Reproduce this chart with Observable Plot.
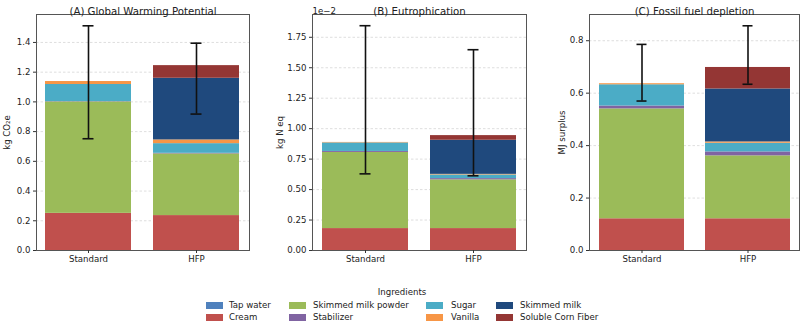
<!DOCTYPE html>
<html><head><meta charset="utf-8">
<script src="https://cdn.jsdelivr.net/npm/d3@7"></script>
<script src="https://cdn.jsdelivr.net/npm/@observablehq/plot@0.6"></script>
<style>
body{margin:0;background:#fff;font-family:"DejaVu Sans",sans-serif;}
#wrap{position:relative;width:805px;height:324px;overflow:hidden;background:#fff;}
.panel{position:absolute;top:0;}
.panel svg{overflow:visible;}
.lg{position:absolute;font-size:8.6px;color:#222;white-space:nowrap;line-height:1;}
.sw{position:absolute;width:17px;height:7px;}
</style></head><body><div id="wrap"></div>
<script>
// ---- data ----
const products = ["Standard", "HFP"];
const ingredients = ["Tap water", "Cream", "Skimmed milk powder", "Stabilizer", "Sugar", "Vanilla", "Skimmed milk", "Soluble Corn Fiber"];
const ingredientColors = ["#4f81bd", "#c0504d", "#9bbb59", "#8064a2", "#4bacc6", "#f79646", "#1f497d", "#943634"];

// segment values per ingredient (same order as ingredients)
const gwpStandard = [0, 0.25, 0.75, 0.002, 0.115, 0.02, 0, 0];
const gwpHFP      = [0, 0.235, 0.415, 0.004, 0.065, 0.025, 0.415, 0.085];
const gwpErrLow   = [0.752, 0.918];
const gwpErrHigh  = [1.512, 1.395];

const eutStandard = [0, 0.18, 0.625, 0.008, 0.07, 0.004, 0, 0];   // ×1e-2
const eutHFP      = [0, 0.18, 0.40, 0.01, 0.03, 0.005, 0.28, 0.038];
const eutErrLow   = [0.629, 0.613];
const eutErrHigh  = [1.845, 1.648];

const ffdStandard = [0, 0.121, 0.419, 0.011, 0.081, 0.004, 0, 0];
const ffdHFP      = [0, 0.121, 0.24, 0.015, 0.033, 0.005, 0.202, 0.082];
const ffdErrLow   = [0.570, 0.634];
const ffdErrHigh  = [0.786, 0.857];

const gwpTicks = [0, 0.2, 0.4, 0.6, 0.8, 1.0, 1.2, 1.4];
const eutTicks = [0, 0.25, 0.5, 0.75, 1.0, 1.25, 1.5, 1.75];
const ffdTicks = [0, 0.2, 0.4, 0.6, 0.8];

// ---- layout ----
const wrap = document.getElementById("wrap");
const FONT = "DejaVu Sans";

function panel(cfg) {
  const rows = [];
  [cfg.std, cfg.hfp].forEach((vals, pi) => {
    vals.forEach((v, ii) => rows.push({product: products[pi], ingredient: ingredients[ii], value: v}));
  });
  const errs = products.map((p, i) => ({product: p, lo: cfg.lo[i], hi: cfg.hi[i]}));
  const chart = Plot.plot({
    width: cfg.width,
    height: 270,
    marginLeft: cfg.ml,
    marginRight: cfg.mr,
    marginTop: 14,
    marginBottom: 20,
    style: {fontFamily: FONT, fontSize: "8.6px", color: "#222", background: "transparent"},
    x: {domain: products, type: "band", paddingInner: 0.2, paddingOuter: 0.086, label: null, tickSize: 3, tickPadding: 3},
    y: {domain: cfg.domain, label: null, ticks: cfg.ticks, tickFormat: cfg.fmt, tickSize: 3, tickPadding: 3},
    color: {domain: ingredients, range: ingredientColors},
    marks: [
      Plot.gridY(cfg.ticks, {stroke: "#d6d6d6", strokeOpacity: 1, strokeDasharray: "2.5,2", strokeWidth: 0.8}),
      Plot.barY(rows, {x: "product", y: "value", fill: "ingredient", order: ingredients, inset: 0}),
      Plot.ruleX(errs, {x: "product", y1: "lo", y2: "hi", stroke: "#111", strokeWidth: 1.6}),
      Plot.tickY(errs, {x: "product", y: "lo", stroke: "#111", strokeWidth: 1.6, insetLeft: 37.5, insetRight: 37.5}),
      Plot.tickY(errs, {x: "product", y: "hi", stroke: "#111", strokeWidth: 1.6, insetLeft: 37.5, insetRight: 37.5}),
      Plot.frame({stroke: "#555", strokeWidth: 1}),
      Plot.axisY({ticks: cfg.ticks, tickFormat: cfg.fmt, tickSize: 3, tickPadding: 3, label: null, stroke: "#333"}),
      Plot.axisX({tickSize: 3, tickPadding: 2, label: null, stroke: "#333"}),
      Plot.text([cfg.title], {frameAnchor: "top", dy: -7, fontSize: 10.2, fill: "#222"}),
      Plot.text([cfg.ylabel], {frameAnchor: "left", dx: cfg.ylx, rotate: -90, fontSize: 8.6, fill: "#222", textAnchor: "middle", lineAnchor: "middle"}),
      ...(cfg.exp ? [Plot.text([cfg.exp], {frameAnchor: "top-left", dy: -7, textAnchor: "start", fontSize: 8.6, fill: "#222"})] : [])
    ]
  });
  const d = document.createElement("div");
  d.className = "panel";
  d.style.left = cfg.left + "px";
  d.appendChild(chart);
  wrap.appendChild(d);
}

panel({left: 0, width: 265, ml: 36, mr: 16, std: gwpStandard, hfp: gwpHFP, lo: gwpErrLow, hi: gwpErrHigh,
  domain: [0, 1.588], ticks: gwpTicks, fmt: d3.format(".1f"), title: "(A) Global Warming Potential", ylabel: "kg CO₂e", ylx: -29.5});
panel({left: 265, width: 270, ml: 47, mr: 9, std: eutStandard, hfp: eutHFP, lo: eutErrLow, hi: eutErrHigh,
  domain: [0, 1.937], ticks: eutTicks, fmt: d3.format(".2f"), title: "(B) Eutrophication", ylabel: "kg N eq", ylx: -32.5, exp: "1e−2"});
panel({left: 535, width: 270, ml: 54, mr: 6, std: ffdStandard, hfp: ffdHFP, lo: ffdErrLow, hi: ffdErrHigh,
  domain: [0, 0.9], ticks: ffdTicks, fmt: d3.format(".1f"), title: "(C) Fossil fuel depletion", ylabel: "MJ surplus", ylx: -27.5});

// ---- legend ----
const title = document.createElement("div");
title.className = "lg";
title.textContent = "Ingredients";
title.style.left = "402px"; title.style.top = "288px"; title.style.transform = "translateX(-50%)";
wrap.appendChild(title);
const colSwatchX = [206, 289, 426, 496];
const colTextX = [229, 313, 451, 520];
const rowY = [305, 317.5];
ingredients.forEach((name, i) => {
  const c = Math.floor(i / 2), r = i % 2;
  const sw = document.createElement("div");
  sw.className = "sw";
  sw.style.background = ingredientColors[i];
  sw.style.left = colSwatchX[c] + "px";
  sw.style.top = (rowY[r] - 3.5) + "px";
  wrap.appendChild(sw);
  const t = document.createElement("div");
  t.className = "lg";
  t.textContent = name;
  t.style.left = colTextX[c] + "px";
  t.style.top = (rowY[r] - 4.5) + "px";
  wrap.appendChild(t);
});
</script></body></html>
